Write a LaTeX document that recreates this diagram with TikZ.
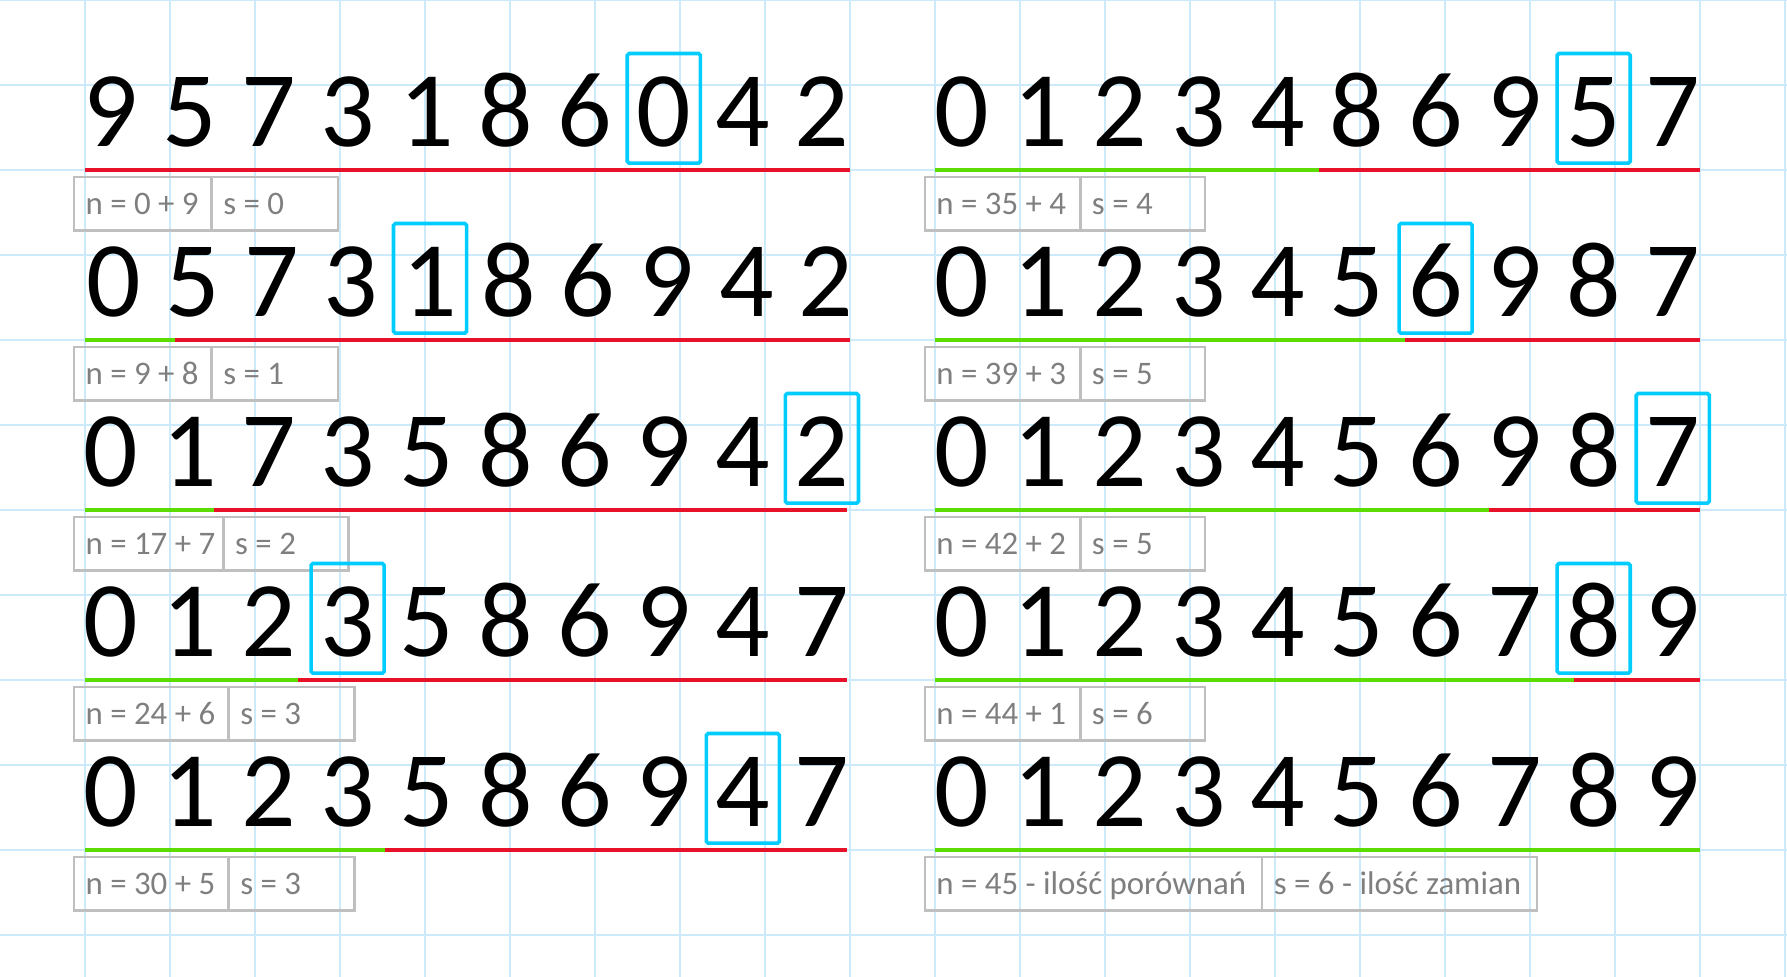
\documentclass[tikz,border=0pt]{standalone}
\usepackage{fontspec}
\setmainfont{Carlito}
\definecolor{gridblue}{RGB}{204,234,250}
\definecolor{pickcyan}{RGB}{0,204,255}
\definecolor{barred}{RGB}{232,17,42}
\definecolor{bargreen}{RGB}{92,220,0}
\definecolor{cellgray}{RGB}{191,191,191}
\definecolor{labelgray}{RGB}{127,127,127}
\begin{document}
\begin{tikzpicture}[
  x = 1cm, y = -1cm,
  gridline/.style={draw=gridblue, line width=0.8pt},
  digit/.style={font=\fontsize{36}{40}\selectfont, anchor=base, inner sep=0pt},
  pickbox/.style={draw=pickcyan, line width=1.2pt, rounded corners=0.6pt},
  sorted/.style={draw=bargreen, line width=1.35pt},
  unsorted/.style={draw=barred, line width=1.35pt},
  cell/.style={draw=cellgray, line width=0.8pt},
  count/.style={font=\fontsize{11}{13}\selectfont, text=labelgray, anchor=base west, inner sep=0pt}]
\useasboundingbox (0,0) rectangle (21.024,11.494);
% squared paper
\foreach \gx in {1,...,21}
  \draw[gridline] (\gx,0) -- (\gx,11.494);
\foreach \gy in {0,...,11}
  \draw[gridline] (0,\gy) -- (21.024,\gy);
% rows: id / first digit / row / digits / picked / green from-to / red to / n / s / box left-divider-right
\foreach \r/\xo/\k/\digits/\pick/\ga/\gb/\rb/\ntext/\stext/\bl/\bd/\br in {
  L1/1.30/1/{9,5,7,3,1,8,6,0,4,2}/7/1.0/1.0/10.0/n = 0 + 9/s = 0/0.87/2.49/3.98,
  L2/1.34/2/{0,5,7,3,1,8,6,9,4,2}/4/1.0/2.06/10.0/n = 9 + 8/s = 1/0.87/2.49/3.98,
  L3/1.30/3/{0,1,7,3,5,8,6,9,4,2}/9/1.0/2.52/9.96/n = 17 + 7/s = 2/0.87/2.63/4.10,
  L4/1.30/4/{0,1,2,3,5,8,6,9,4,7}/3/1.0/3.51/9.96/n = 24 + 6/s = 3/0.87/2.69/4.17,
  L5/1.30/5/{0,1,2,3,5,8,6,9,4,7}/8/1.0/4.53/9.96/n = 30 + 5/s = 3/0.87/2.69/4.17,
  R1/11.31/1/{0,1,2,3,4,8,6,9,5,7}/8/11.0/15.52/20.0/n = 35 + 4/s = 4/10.88/12.71/14.18,
  R2/11.31/2/{0,1,2,3,4,5,6,9,8,7}/6/11.0/16.53/20.0/n = 39 + 3/s = 5/10.88/12.71/14.18,
  R3/11.31/3/{0,1,2,3,4,5,6,9,8,7}/9/11.0/17.52/20.0/n = 42 + 2/s = 5/10.88/12.71/14.18,
  R4/11.31/4/{0,1,2,3,4,5,6,7,8,9}/8/11.0/18.52/20.0/n = 44 + 1/s = 6/10.88/12.71/14.18,
  R5/11.31/5/{0,1,2,3,4,5,6,7,8,9}/-1/11.0/20.0/20.0/n = 45 - ilość porównań/s = 6 - ilość zamian/10.88/14.85/18.08}
{
  \foreach \d [count=\i from 0] in \digits
    \node[digit] (\r-\i) at ({\xo+\i*0.93},{2*\k-0.28}) {\d};
  \ifnum\pick>-1
    \draw[pickbox] ({\xo+\pick*0.93-0.43},{2*\k-1.37}) rectangle ({\xo+\pick*0.93+0.43},{2*\k-0.08});
  \fi
  \draw[sorted] (\ga,2*\k) -- (\gb,2*\k);
  \draw[unsorted] (\gb,2*\k) -- (\rb,2*\k);
  \draw[cell] (\bl,{2*\k+0.08}) rectangle (\br,{2*\k+0.71});
  \draw[cell] (\bd,{2*\k+0.08}) -- (\bd,{2*\k+0.71});
  \node[count] (\r-n) at ({\bl+0.13},{2*\k+0.52}) {\ntext};
  \node[count] (\r-s) at ({\bd+0.13},{2*\k+0.52}) {\stext};
}
\end{tikzpicture}
\end{document}
